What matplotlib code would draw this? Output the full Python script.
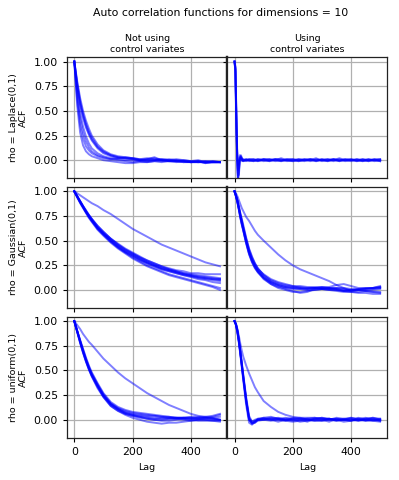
import matplotlib
matplotlib.use("Agg")
import matplotlib.pyplot as plt

# lag grids used for the sampled ACF values
lags_slow = [0, 10, 20, 30, 40, 50, 60, 80, 100, 125, 150, 175, 200, 225, 250,
             275, 300, 325, 350, 375, 400, 425, 450, 475, 500]
lags_fast = [0, 5, 10, 15, 20, 25, 30, 40, 50, 60, 70, 80, 100, 125, 150, 175,
             200, 225, 250, 275, 300, 325, 350, 375, 400, 425, 450, 475, 500]
lags_spike = [0, 3, 6, 9, 12, 15, 18, 22, 26, 30, 40, 50, 65, 80, 100, 120, 140,
              160, 180, 200, 220, 240, 260, 280, 300, 320, 340, 360, 380, 400,
              420, 440, 460, 480, 500]

# Laplace(0,1), no control variates
laplace_plain = [
    [1, .55, .28, .15, .09, .06, .04, .02, .0, -.01, -.02, -.03, -.03, -.02, -.02, -.01, -.02, -.01, -.01, -.02, -.01, -.02, -.02, -.02, -.02],
    [1, .65, .42, .28, .19, .13, .09, .05, .03, .01, 0, -.01, -.02, -.01, -.02, -.01, -.01, 0, -.01, -.01, -.02, -.02, -.01, -.02, -.02],
    [1, .75, .56, .43, .33, .26, .2, .12, .07, .04, .02, .02, .01, .0, .01, .02, .0, -.01, .0, -.01, -.02, -.01, -.03, -.02, -.02],
    [1, .8, .63, .5, .4, .32, .25, .16, .1, .06, .04, .03, .02, .01, .0, .0, .01, .0, -.01, .0, -.01, .0, -.02, -.01, -.02],
    [1, .78, .6, .47, .37, .29, .23, .14, .09, .05, .03, .02, .02, .01, .02, .01, .0, .01, .0, -.01, -.02, -.02, -.01, -.02, -.02],
    [1, .7, .48, .34, .24, .17, .12, .07, .04, .02, .01, .0, .0, -.01, -.01, .0, .0, -.01, -.02, -.01, -.02, -.01, -.03, -.02, -.02],
    [1, .6, .35, .22, .14, .1, .07, .04, .02, .01, .02, .03, .02, .0, .01, .03, .0, -.01, -.01, -.02, -.02, -.01, -.02, -.02, -.02],
    [1, .76, .58, .45, .35, .27, .21, .13, .08, .05, .03, .02, .01, .0, .0, .0, .01, .0, .01, .0, -.01, -.02, -.02, -.01, -.02],
]

# Laplace(0,1), control variates
laplace_cv = [
    [1, .95, .5, .05, -.18, -.12, .02, .04, 0, -.01, .01, 0, -.01, .01, 0, .01, -.01, 0, .01, 0, -.01, .01, 0, .02, -.01, 0, .01, -.01, 0, .01, -.01, 0, .01, -.01, 0],
    [1, .9, .4, .0, -.22, -.05, .05, .02, -.01, 0, 0, .01, 0, -.01, .01, 0, .01, -.01, 0, .01, 0, -.01, .01, 0, .01, -.01, 0, .02, 0, -.01, .01, 0, -.01, .01, .01],
    [1, .92, .45, .08, -.1, -.08, .03, .03, .01, 0, -.01, .01, .01, 0, -.01, .0, .01, .01, -.01, 0, .01, 0, -.01, .01, 0, .01, -.01, 0, .01, 0, -.01, .01, 0, .0, -.01],
    [1, .93, .55, .12, -.05, -.02, .01, .02, .0, .01, 0, -.01, 0, .01, 0, -.01, .0, .02, 0, -.01, 0, .01, .0, -.01, .01, 0, .01, -.01, .01, 0, 0, -.01, .01, 0, .0],
    [1, .9, .42, .02, -.15, -.15, -.02, .05, .02, 0, .01, 0, .01, -.01, .01, .01, 0, -.01, .01, .01, -.01, 0, .01, 0, .0, .01, 0, .01, -.01, 0, .01, -.01, .0, .01, -.01],
    [1, .94, .48, .06, -.2, -.1, .0, .03, .01, -.01, 0, .0, -.01, 0, .01, -.01, .01, 0, .0, -.01, .01, 0, .01, -.01, .0, -.01, .01, .0, 0, .01, 0, .01, -.01, .0, .01],
]

# Gaussian(0,1), no control variates
gauss_plain = [
    [1, .98, .96, .94, .92, .9, .88, .85, .81, .77, .72, .67, .62, .58, .54, .5, .46, .43, .4, .37, .34, .31, .28, .26, .24],
    [1, .95, .9, .85, .8, .76, .72, .65, .59, .52, .46, .41, .37, .33, .29, .26, .23, .21, .19, .17, .16, .15, .14, .13, .12],
    [1, .95, .89, .84, .79, .75, .7, .63, .57, .5, .44, .39, .35, .31, .28, .25, .22, .2, .18, .16, .15, .14, .13, .12, .11],
    [1, .94, .89, .84, .79, .74, .7, .62, .56, .49, .43, .38, .33, .29, .25, .22, .19, .16, .14, .12, .1, .08, .06, .04, .02],
    [1, .95, .9, .85, .8, .76, .72, .64, .58, .52, .46, .41, .37, .33, .3, .27, .24, .22, .2, .19, .17, .17, .16, .16, .16],
    [1, .94, .88, .83, .78, .73, .69, .61, .55, .48, .42, .37, .32, .28, .24, .21, .18, .15, .13, .11, .09, .07, .05, .03, .0],
    [1, .95, .9, .85, .81, .76, .72, .65, .59, .52, .47, .42, .38, .34, .3, .27, .24, .21, .19, .17, .15, .13, .12, .11, .1],
    [1, .95, .89, .84, .79, .75, .71, .63, .57, .5, .44, .39, .35, .31, .27, .24, .21, .19, .17, .15, .13, .11, .1, .08, .07],
    [1, .94, .89, .84, .79, .74, .7, .62, .56, .49, .43, .38, .34, .3, .27, .24, .21, .19, .17, .15, .14, .12, .11, .1, .09],
    [1, .95, .9, .85, .8, .75, .71, .63, .57, .51, .45, .4, .36, .32, .28, .25, .22, .2, .18, .16, .14, .13, .12, .11, .11],
]

# Gaussian(0,1), control variates
gauss_cv = [
    [1, .98, .95, .91, .87, .83, .8, .74, .7, .65, .6, .56, .5, .43, .36, .3, .25, .21, .18, .15, .12, .09, .05, .02, -.01, 0, -.01, -.02, -.03],
    [1, .96, .9, .83, .76, .7, .63, .5, .39, .31, .25, .2, .13, .08, .05, .03, .02, .02, .01, .02, .01, .02, .01, .0, .0, .01, .02, .02, .02],
    [1, .95, .89, .81, .73, .66, .6, .47, .36, .28, .22, .18, .12, .07, .04, .01, -.01, -.03, -.02, .01, .02, .03, .05, .06, .04, .02, .01, .02, .03],
    [1, .96, .91, .85, .78, .72, .66, .53, .42, .34, .27, .22, .15, .09, .06, .04, .03, .03, .02, .02, .03, .02, .01, -.01, -.02, -.02, -.01, .0, .01],
    [1, .95, .9, .82, .74, .67, .61, .48, .37, .29, .23, .19, .12, .06, .02, .0, -.02, -.02, -.01, .0, .01, .0, -.01, -.02, -.02, -.03, -.03, -.04, -.04],
    [1, .96, .9, .83, .76, .69, .63, .51, .4, .32, .26, .21, .16, .11, .08, .06, .04, .02, .01, .02, .03, .02, .02, .01, .0, .0, .01, .02, .03],
    [1, .95, .89, .82, .75, .68, .61, .49, .38, .3, .24, .19, .13, .08, .05, .03, .02, .01, .0, .0, .01, .0, .0, -.01, -.01, .0, .01, .02, .04],
    [1, .96, .91, .84, .77, .71, .64, .52, .41, .33, .27, .22, .15, .1, .07, .05, .04, .04, .03, .03, .02, .01, .0, -.01, .0, .01, .02, .01, .02],
    [1, .95, .89, .82, .74, .67, .61, .48, .37, .29, .23, .18, .11, .06, .03, .02, .01, .01, .02, .02, .01, .01, .02, .02, .01, .0, -.01, -.02, -.02],
]

# uniform(0,1), no control variates
unif_plain = [
    [1, .96, .92, .87, .83, .79, .76, .69, .62, .55, .48, .42, .37, .32, .27, .23, .19, .15, .12, .09, .06, .04, .03, .02, .0],
    [1, .9, .8, .7, .61, .53, .46, .35, .25, .16, .11, .08, .06, .05, .04, .04, .03, .03, .02, .02, .02, .01, .02, .03, .05],
    [1, .89, .78, .68, .59, .51, .44, .32, .23, .14, .09, .05, .02, .0, -.02, -.03, -.04, -.03, -.03, -.02, -.01, .0, .0, .0, .0],
    [1, .9, .8, .71, .62, .54, .47, .36, .26, .17, .12, .09, .07, .06, .05, .04, .03, .02, .02, .01, .0, -.01, -.01, -.01, -.01],
    [1, .89, .79, .69, .6, .52, .45, .34, .24, .15, .1, .06, .04, .02, .01, .0, .0, .01, .01, .02, .02, .02, .03, .04, .06],
    [1, .9, .81, .72, .63, .55, .48, .37, .27, .18, .13, .1, .08, .07, .06, .05, .04, .03, .02, .02, .01, .01, .0, -.01, -.02],
    [1, .89, .78, .68, .59, .51, .44, .33, .23, .14, .09, .06, .04, .03, .01, .0, -.01, -.01, .0, .01, .01, .02, .02, .01, .0],
    [1, .9, .8, .7, .61, .53, .46, .35, .25, .16, .11, .07, .05, .04, .03, .02, .01, .01, .02, .02, .03, .03, .02, .01, .0],
    [1, .9, .79, .69, .6, .52, .45, .34, .24, .16, .11, .07, .05, .03, .02, .01, .02, .02, .01, .0, -.01, .0, .01, .02, .03],
]

# uniform(0,1), control variates
unif_cv = [
    [1, .97, .92, .85, .77, .7, .64, .55, .47, .4, .33, .28, .19, .13, .08, .05, .03, .02, .02, .02, .01, .01, .0, .0, .0, .0, .0, -.01, .0],
    [1, .97, .9, .8, .69, .56, .44, .2, .0, -.04, -.03, -.01, .0, .01, .0, -.01, .01, .02, .0, -.01, .0, .01, -.01, .0, .02, .01, -.01, .0, .01],
    [1, .96, .88, .78, .66, .53, .4, .15, -.03, -.05, -.02, .0, .01, .0, -.02, .0, .01, .0, -.02, .01, .0, -.02, .01, .0, -.01, .02, .0, -.01, -.02],
    [1, .97, .91, .81, .7, .58, .46, .23, .04, -.02, -.01, .0, .02, .01, .02, .0, -.01, .0, .01, .02, .01, .0, .02, .01, .0, -.01, .01, .02, .0],
    [1, .96, .89, .79, .67, .55, .42, .18, .0, -.03, -.02, .01, .02, .03, .01, -.01, -.02, -.01, .0, .0, -.01, .01, .0, -.02, -.01, .0, .01, .01, -.01],
    [1, .97, .9, .8, .68, .56, .43, .2, .01, -.03, -.03, .0, .0, -.01, .01, .02, .0, -.02, -.01, .01, .02, .0, -.01, .01, .02, .0, -.01, .0, .0],
    [1, .96, .89, .79, .68, .55, .43, .19, .02, -.02, .0, .01, .01, .0, .0, .01, .02, .01, .0, -.01, -.01, .0, .01, .0, -.01, .01, .02, .0, -.01],
    [1, .97, .9, .81, .69, .57, .45, .21, .02, -.04, -.02, .0, .0, .02, .01, .0, .0, .01, .01, .0, .02, .01, .0, .0, .01, -.01, .0, .02, .01],
]

row_labels = ["rho = Laplace(0,1)\nACF", "rho = Gaussian(0,1)\nACF", "rho = uniform(0,1)\nACF"]
col_titles = ["Not using\ncontrol variates", "Using\ncontrol variates"]
panels = [
    [(lags_slow, laplace_plain), (lags_spike, laplace_cv)],
    [(lags_slow, gauss_plain), (lags_fast, gauss_cv)],
    [(lags_slow, unif_plain), (lags_fast, unif_cv)],
]

fig, axes = plt.subplots(3, 2, figsize=(3.99, 4.8), dpi=100, sharex=True, sharey=True)
fig.subplots_adjust(left=0.168, right=0.971, top=0.881, bottom=0.0875,
                    wspace=0.0, hspace=0.07)

for i in range(3):
    for j in range(2):
        ax = axes[i, j]
        x, curves = panels[i][j]
        for c in curves:
            ax.plot(x, c, color="blue", alpha=0.5, linewidth=1.4)
        ax.grid(True, color="#b0b0b0", linewidth=0.9)
        ax.set_axisbelow(True)
        ax.tick_params(labelsize=7.8, length=3)
        for s in ax.spines.values():
            s.set_linewidth(0.9)
            s.set_color("#222222")
        if j == 0:
            ax.spines["right"].set_linewidth(1.6)
            ax.set_ylabel(row_labels[i], fontsize=6.8)
        else:
            ax.spines["left"].set_linewidth(1.6)
        if i == 0:
            ax.set_title(col_titles[j], fontsize=6.8, pad=4)
        if i == 2:
            ax.set_xlabel("Lag", fontsize=6.8)

axes[0, 0].set_xlim(-25, 525)
axes[0, 0].set_ylim(-0.185, 1.045)
axes[0, 0].set_xticks([0, 200, 400])
axes[0, 0].set_yticks([0.0, 0.25, 0.5, 0.75, 1.0])

fig.suptitle("Auto correlation functions for dimensions = 10", fontsize=7.8,
             x=0.552, y=0.984)

fig.savefig("out.png", dpi=100)
